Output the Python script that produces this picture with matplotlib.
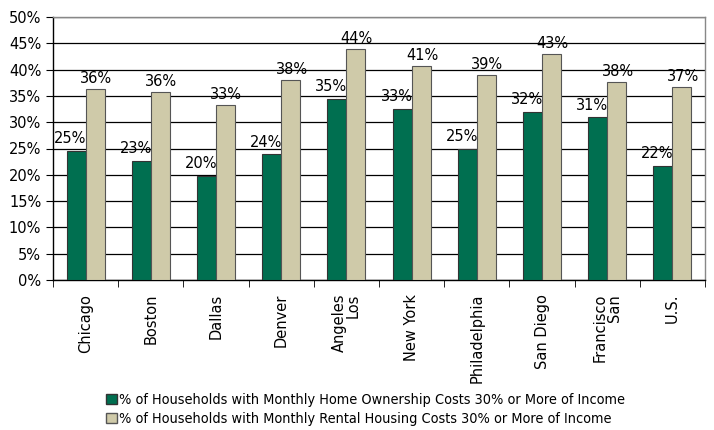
import matplotlib
matplotlib.use("Agg")
import matplotlib.pyplot as plt
import numpy as np
from matplotlib import font_manager
from matplotlib.patches import Patch

# data
cities = ["Chicago", "Boston", "Dallas", "Denver", "Angeles\nLos", "New York",
          "Philadelphia", "San Diego", "Francisco\nSan", "U.S."]
ownership = [24.5, 22.7, 19.8, 23.9, 34.4, 32.5, 24.9, 31.9, 30.9, 21.7]
rental = [36.3, 35.7, 33.3, 38.0, 43.9, 40.6, 38.9, 43.0, 37.6, 36.7]
own_labels = ["25%", "23%", "20%", "24%", "35%", "33%", "25%", "32%", "31%", "22%"]
rent_labels = ["36%", "36%", "33%", "38%", "44%", "41%", "39%", "43%", "38%", "37%"]
legend_labels = [
    "% of Households with Monthly Home Ownership Costs 30% or More of Income",
    "% of Households with Monthly Rental Housing Costs 30% or More of Income",
]

green = "#006f50"
tan = "#cfcaa9"

# legend in the reference uses a condensed face; look for one
condensed = [f for f in font_manager.fontManager.ttflist
             if ("Condensed" in f.fname or "Narrow" in f.fname)
             and "Bold" not in f.fname and "Oblique" not in f.fname
             and "Italic" not in f.fname]
if condensed:
    legend_prop = font_manager.FontProperties(fname=condensed[0].fname, size=10.35)
else:
    legend_prop = font_manager.FontProperties(family="Roboto", size=9.2)

fig = plt.figure(figsize=(7.14, 4.30), dpi=100)
ax = fig.add_axes([53 / 714, 150 / 430, 652 / 714, 263 / 430])

x = np.arange(len(cities))
w = 0.29
ax.bar(x - w / 2, ownership, w, color=green, edgecolor="#333333", linewidth=0.8, zorder=3)
ax.bar(x + w / 2, rental, w, color=tan, edgecolor="#555555", linewidth=0.8, zorder=3)

for i in range(len(cities)):
    ax.text(x[i] - w * 0.8, ownership[i] + 0.9, own_labels[i], ha="center", va="bottom",
            fontsize=10.5, zorder=4)
    ax.text(x[i] + w * 0.55, rental[i] + 0.6, rent_labels[i], ha="center", va="bottom",
            fontsize=10.5, zorder=4)

ax.set_xlim(-0.5, len(cities) - 0.5)
ax.set_ylim(0, 50)
ax.set_yticks(np.arange(0, 51, 5))
ax.set_yticklabels(["{}%".format(v) for v in range(0, 51, 5)], fontsize=10.5)
ax.yaxis.grid(True, color="black", linewidth=0.9, zorder=0)
ax.set_axisbelow(True)

# category labels at centres, tick marks at boundaries
ax.set_xticks(x)
ax.set_xticklabels(cities, rotation=90, fontsize=10.5, linespacing=0.95)
for lab in ax.get_xticklabels():
    lab.set_multialignment("right")
ax.tick_params(axis="x", length=0, pad=10)
ax.set_xticks(np.arange(-0.5, len(cities), 1), minor=True)
ax.tick_params(axis="x", which="minor", length=5, direction="out")
ax.tick_params(axis="y", length=5, direction="out")

for s in ["left", "bottom"]:
    ax.spines[s].set_color("black")
    ax.spines[s].set_linewidth(1.0)
for s in ["top", "right"]:
    ax.spines[s].set_color("#888888")
    ax.spines[s].set_linewidth(1.0)

handles = [Patch(facecolor=green, edgecolor="#333333"),
           Patch(facecolor=tan, edgecolor="#555555")]
fig.legend(handles, legend_labels, loc="upper left", bbox_to_anchor=(106 / 714, 1 - 393 / 430),
           frameon=False, handlelength=0.75, handleheight=0.75, handletextpad=0.15,
           labelspacing=0.35, borderpad=0, borderaxespad=0, prop=legend_prop)

fig.savefig("out.png", dpi=100)
